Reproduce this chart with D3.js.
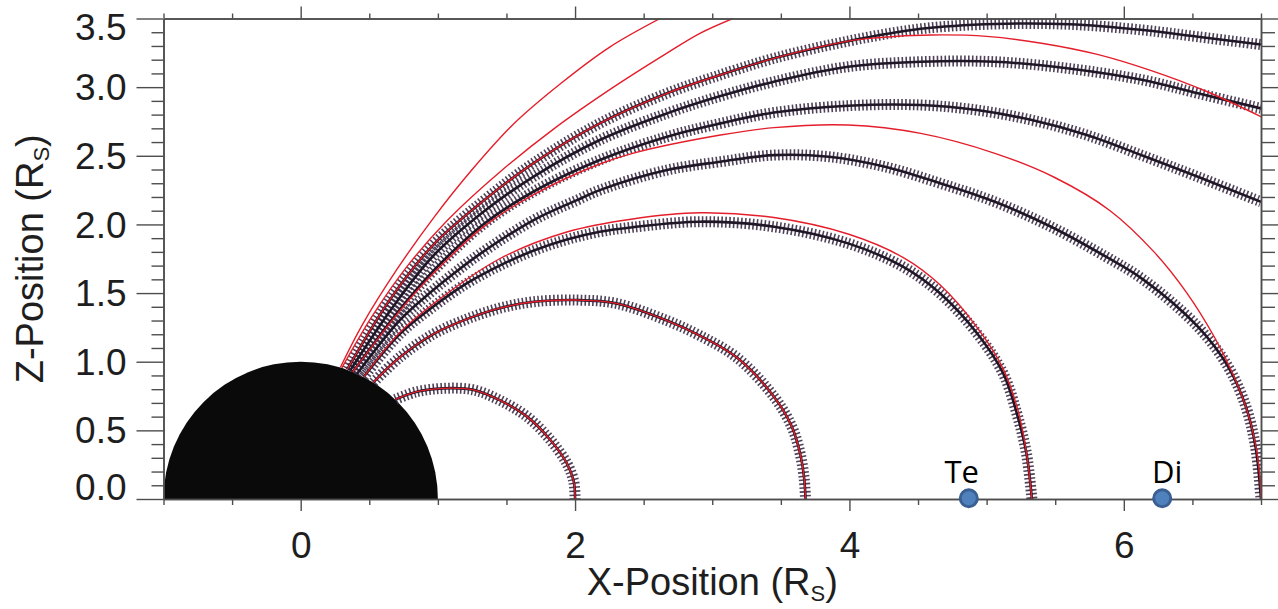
<!DOCTYPE html>
<html>
<head>
<meta charset="utf-8">
<script src="https://cdn.jsdelivr.net/npm/d3@7"></script>
<style>
  html, body { margin: 0; padding: 0; background: #ffffff; }
  svg { display: block; }
</style>
</head>
<body>
<svg id="chart" width="1278" height="609"></svg>
<script>
// ---- Axis extents and tick labels (Saturn radii) ----
const xDomain = [-1, 7];
const zDomain = [0, 3.5];
const xMajorTicks = [0, 2, 4, 6];
const zMajorTicks = [0, 0.5, 1.0, 1.5, 2.0, 2.5, 3.0, 3.5];
const planetRadius = 1;

// ---- Moon orbits on the equator ----
const moonNames = ["Te", "Di"];
const moonX = [4.87, 6.28];
const moonLabelShift = [-7, 5];   // px nudge of each name

// ---- Traced field lines (x, z) ----
const traceL2 = [[0.69,0.725],[0.84,0.78],[1.04,0.806],[1.26,0.795],[1.45,0.72],[1.65,0.60],[1.82,0.43],[1.94,0.26],[1.99,0.13],[2.0,0]];
const traceL37 = [[0.53,0.85],[0.72,1.03],[0.965,1.20],[1.21,1.31],[1.45,1.39],[1.70,1.437],[2.01,1.449],[2.30,1.425],[2.67,1.30],[2.91,1.19],[3.18,1.03],[3.45,0.745],[3.58,0.527],[3.64,0.333],[3.67,0.15],[3.68,0]];
const traceL53 = [[0.46,0.89],[0.72,1.20],[0.965,1.40],[1.21,1.57],[1.45,1.70],[1.70,1.81],[1.94,1.89],[2.18,1.947],[2.42,1.98],[2.91,2.02],[3.45,1.983],[3.99,1.862],[4.39,1.692],[4.66,1.498],[4.93,1.207],[5.12,0.916],[5.22,0.624],[5.29,0.333],[5.33,0]];
const traceL70 = [[0.41,0.91],[0.72,1.30],[0.94,1.50],[1.10,1.63],[1.30,1.78],[1.695,2.03],[2.01,2.175],[2.18,2.25],[2.67,2.396],[3.06,2.457],[3.45,2.505],[3.85,2.493],[4.26,2.42],[4.66,2.30],[5.06,2.165],[5.47,1.983],[5.87,1.765],[6.14,1.60],[6.54,1.255],[6.76,0.964],[6.89,0.672],[6.96,0.381],[7.0,0]];
const traceOpen1 = [[0.38,0.925],[0.722,1.38],[0.965,1.66],[1.33,2.00],[1.695,2.238],[2.18,2.469],[2.67,2.639],[3.06,2.736],[3.45,2.815],[3.99,2.865],[4.52,2.87],[4.93,2.833],[5.33,2.76],[5.73,2.651],[6.14,2.50],[6.54,2.347],[7.0,2.165]];
const traceOpen2 = [[0.36,0.935],[0.673,1.40],[0.965,1.77],[1.33,2.09],[1.695,2.347],[2.18,2.615],[2.67,2.809],[3.06,2.935],[3.45,3.04],[3.99,3.149],[4.52,3.185],[5.06,3.185],[5.60,3.136],[6.14,3.052],[6.54,2.955],[7.0,2.845]];
const traceOpen3 = [[0.34,0.945],[0.649,1.45],[0.965,1.85],[1.33,2.17],[1.695,2.445],[2.18,2.736],[2.67,2.955],[3.0,3.07],[3.45,3.21],[3.99,3.335],[4.52,3.425],[5.06,3.46],[5.60,3.458],[6.14,3.416],[6.54,3.367],[7.0,3.31]];

// ---- Model field lines (x, z) ----
const modelL2 = [[0.69,0.725],[0.84,0.78],[1.04,0.806],[1.26,0.795],[1.45,0.72],[1.65,0.60],[1.82,0.43],[1.94,0.26],[1.99,0.13],[2.0,0]];
const modelL37 = [[0.53,0.85],[0.72,1.03],[0.965,1.20],[1.21,1.31],[1.45,1.39],[1.70,1.437],[2.01,1.449],[2.30,1.425],[2.67,1.30],[2.91,1.19],[3.18,1.03],[3.45,0.745],[3.58,0.527],[3.64,0.333],[3.67,0.15],[3.68,0]];
const modelL53 = [[0.46,0.89],[0.72,1.21],[0.965,1.42],[1.45,1.75],[1.94,1.945],[2.42,2.04],[2.91,2.085],[3.45,2.05],[3.99,1.93],[4.39,1.76],[4.66,1.56],[4.93,1.25],[5.12,0.95],[5.23,0.64],[5.29,0.34],[5.33,0]];
const modelL70 = [[0.38,0.925],[0.722,1.37],[0.965,1.64],[1.33,1.98],[1.695,2.215],[2.18,2.44],[2.42,2.518],[3.06,2.651],[3.45,2.705],[3.99,2.724],[4.52,2.663],[5.06,2.518],[5.50,2.34],[5.90,2.10],[6.22,1.80],[6.46,1.50],[6.66,1.18],[6.80,0.90],[6.90,0.64],[6.96,0.40],[6.99,0.18],[7.0,0]];
const modelOpen1 = [[0.34,0.945],[0.649,1.45],[0.965,1.85],[1.33,2.17],[1.695,2.445],[2.18,2.736],[2.67,2.955],[3.0,3.07],[3.45,3.21],[3.99,3.335],[4.2,3.36],[4.6,3.38],[5.0,3.37],[5.4,3.32],[5.8,3.24],[6.2,3.12],[6.6,2.97],[7.0,2.785]];
const modelOpen2 = [[0.29,0.96],[0.45,1.27],[0.70,1.67],[0.97,2.05],[1.25,2.40],[1.55,2.73],[1.90,3.03],[2.25,3.29],[2.62,3.50]];
const modelOpen3 = [[0.30,0.955],[0.52,1.33],[0.78,1.70],[1.07,2.03],[1.45,2.38],[1.85,2.70],[2.28,3.00],[2.667,3.246],[2.91,3.392],[3.15,3.50]];

const tracedLines = [traceL2, traceL37, traceL53, traceL70, traceOpen1, traceOpen2, traceOpen3];
const modelLines = [modelL2, modelL37, modelL53, modelL70, modelOpen1, modelOpen2, modelOpen3];

// ---- Layout ----
const plot = { left: 163.5, top: 18.5, right: 1261, bottom: 499 };
const svg = d3.select("#chart");

const x = d3.scaleLinear().domain(xDomain).range([plot.left, plot.right]);
const z = d3.scaleLinear().domain(zDomain).range([plot.bottom, plot.top]);

const axisFont = "'Liberation Sans', Arial, sans-serif";
const axisColor = "#4d4d4d";

svg.append("defs").append("clipPath").attr("id", "plot-clip")
  .append("rect")
  .attr("x", plot.left).attr("y", plot.top)
  .attr("width", plot.right - plot.left).attr("height", plot.bottom - plot.top);

const plotG = svg.append("g").attr("clip-path", "url(#plot-clip)");

// Planet (upper half only, the clip cuts at z = 0)
plotG.append("ellipse")
  .attr("cx", x(0)).attr("cy", z(0))
  .attr("rx", x(planetRadius) - x(0))
  .attr("ry", z(0) - z(planetRadius))
  .attr("fill", "#0a0a0a");

const line = d3.line()
  .x(d => x(d[0]))
  .y(d => z(d[1]))
  .curve(d3.curveCatmullRom.alpha(0.5));

// Traced lines: dense cross-bars along a dark core
plotG.selectAll("path.trace-marks").data(tracedLines).join("path")
  .attr("class", "trace-marks")
  .attr("d", line)
  .attr("fill", "none")
  .attr("stroke", "#3c2d47")
  .attr("stroke-width", 11)
  .attr("stroke-dasharray", "1.6 2.3")
  .attr("opacity", 0.9);

plotG.selectAll("path.trace-core").data(tracedLines).join("path")
  .attr("class", "trace-core")
  .attr("d", line)
  .attr("fill", "none")
  .attr("stroke", "#1f1726")
  .attr("stroke-width", 2.6);

// Model lines
plotG.selectAll("path.model").data(modelLines).join("path")
  .attr("class", "model")
  .attr("d", line)
  .attr("fill", "none")
  .attr("stroke", "#e41e2b")
  .attr("stroke-width", 1.4);

// ---- Axes ----
const xMinor = d3.range(-1, 7.001, 0.5).filter(v => !xMajorTicks.includes(v));
const zMinor = d3.range(0, 35.001, 1).map(v => v / 10).filter(v => !zMajorTicks.some(t => Math.abs(t - v) < 1e-9));

function styleAxis(g) {
  g.select(".domain").attr("stroke", axisColor).attr("stroke-width", 1.5);
  g.selectAll(".tick line").attr("stroke", axisColor).attr("stroke-width", 1.4);
  g.selectAll(".tick text")
    .attr("font-family", axisFont)
    .attr("font-size", 37)
    .attr("fill", "#1e1e1e");
}

// bottom
svg.append("g").attr("transform", `translate(0,${plot.bottom})`)
  .call(d3.axisBottom(x).tickValues(xMinor).tickSize(6).tickSizeOuter(0).tickFormat(""))
  .call(styleAxis);
svg.append("g").attr("transform", `translate(0,${plot.bottom})`)
  .call(d3.axisBottom(x).tickValues(xMajorTicks).tickSize(12).tickPadding(21).tickSizeOuter(0).tickFormat(d3.format("d")))
  .call(styleAxis);

// top
svg.append("g").attr("transform", `translate(0,${plot.top})`)
  .call(d3.axisTop(x).tickValues(xMinor).tickSize(5).tickSizeOuter(0).tickFormat(""))
  .call(styleAxis);
svg.append("g").attr("transform", `translate(0,${plot.top})`)
  .call(d3.axisTop(x).tickValues(xMajorTicks).tickSize(12).tickSizeOuter(0).tickFormat(""))
  .call(styleAxis);

// left
svg.append("g").attr("transform", `translate(${plot.left},0)`)
  .call(d3.axisLeft(z).tickValues(zMinor).tickSize(12).tickSizeOuter(0).tickFormat(""))
  .call(styleAxis);
const leftMajor = svg.append("g").attr("transform", `translate(${plot.left},0)`)
  .call(d3.axisLeft(z).tickValues(zMajorTicks).tickSize(27).tickPadding(10).tickSizeOuter(0).tickFormat(d3.format(".1f")))
  .call(styleAxis);
// end labels are kept inside the frame height
leftMajor.selectAll(".tick text")
  .attr("dy", d => d === zDomain[0] ? "0em" : (d === zDomain[1] ? "0.58em" : "0.34em"));

// right
svg.append("g").attr("transform", `translate(${plot.right},0)`)
  .call(d3.axisRight(z).tickValues(zMinor).tickSize(14).tickSizeOuter(0).tickFormat(""))
  .call(styleAxis);
svg.append("g").attr("transform", `translate(${plot.right},0)`)
  .call(d3.axisRight(z).tickValues(zMajorTicks).tickSize(27).tickSizeOuter(0).tickFormat(""))
  .call(styleAxis);

// ---- Axis titles ----
const xTitle = svg.append("text")
  .attr("x", (plot.left + plot.right) / 2)
  .attr("y", 595)
  .attr("text-anchor", "middle")
  .attr("font-family", axisFont)
  .attr("font-size", 38)
  .attr("fill", "#1e1e1e");
xTitle.append("tspan").text("X-Position (R");
xTitle.append("tspan").attr("font-size", 22).attr("dy", 6).text("S");
xTitle.append("tspan").attr("dy", -6).text(")");

const zTitle = svg.append("text")
  .attr("transform", `translate(43,${(plot.top + plot.bottom) / 2}) rotate(-90)`)
  .attr("text-anchor", "middle")
  .attr("font-family", axisFont)
  .attr("font-size", 38)
  .attr("fill", "#1e1e1e");
zTitle.append("tspan").text("Z-Position (R");
zTitle.append("tspan").attr("font-size", 22).attr("dy", 6).text("S");
zTitle.append("tspan").attr("dy", -6).text(")");

// ---- Moons ----
svg.selectAll("circle.moon").data(moonX).join("circle")
  .attr("class", "moon")
  .attr("cx", d => x(d))
  .attr("cy", z(0) - 0.7)
  .attr("r", 8.5)
  .attr("fill", "#4f81bd")
  .attr("stroke", "#3a5f92")
  .attr("stroke-width", 3);

svg.selectAll("text.moon-label").data(moonNames).join("text")
  .attr("class", "moon-label")
  .attr("x", (d, i) => x(moonX[i]) + moonLabelShift[i])
  .attr("y", 483)
  .attr("text-anchor", "middle")
  .attr("font-family", "'Open Sans', 'Noto Sans', sans-serif")
  .attr("font-size", 31)
  .attr("fill", "#000")
  .text(d => d);
</script>
</body>
</html>
